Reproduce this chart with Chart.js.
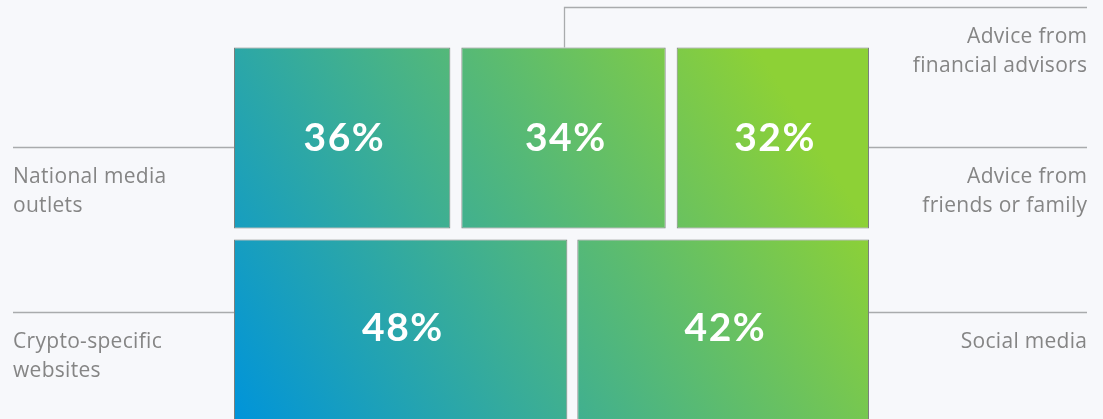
<!DOCTYPE html>
<html>
<head>
<meta charset="utf-8">
<script src="https://cdn.jsdelivr.net/npm/chart.js@4.4.1/dist/chart.umd.min.js"></script>
<style>
  html, body { margin: 0; padding: 0; background: #f7f8fb; overflow: hidden; }
  #wrap { position: relative; width: 1103px; height: 440px; }
</style>
</head>
<body>
<div id="wrap"><canvas id="c"></canvas></div>
<script>
// ---- data ----
const topRowCategories = [['National media', 'outlets'], ['Advice from', 'financial advisors'], ['Advice from', 'friends or family']];
const topRowValues = [36, 34, 32];
const bottomRowCategories = [['Crypto-specific', 'websites'], ['Social media']];
const bottomRowValues = [48, 42];
const rowLabels = ['Top row', 'Bottom row'];

// ---- build floating ranges (fractions of row width) ----
const GAP_TOP = 0.0173;
const GAP_BOTTOM = 0.0157;
function rowRanges(values, gap) {
  const sum = values.reduce((a, b) => a + b, 0);
  const avail = 1 - gap * (values.length - 1);
  let x = 0;
  return values.map(v => { const r = [x, x + v / sum * avail]; x = r[1] + gap; return r; });
}
const topRanges = rowRanges(topRowValues, GAP_TOP);
const bottomRanges = rowRanges(bottomRowValues, GAP_BOTTOM);
const nSets = Math.max(topRowValues.length, bottomRowValues.length);

let gradCache = null;
function gradient(context) {
  const chart = context.chart;
  const a = chart.chartArea;
  if (!a) return '#47b388';
  const key = a.left + ',' + a.top + ',' + a.right + ',' + a.bottom;
  if (gradCache && gradCache.key === key) return gradCache.g;
  const x0 = a.left, y0 = a.top + 377;
  const ux = 0.8466, uy = -0.532, L = 640;
  const g = chart.ctx.createLinearGradient(x0, y0, x0 + ux * L, y0 + uy * L);
  g.addColorStop(0, '#0094da');
  g.addColorStop(1, '#8dd136');
  gradCache = { key, g };
  return g;
}

const datasets = [];
for (let j = 0; j < nSets; j++) {
  datasets.push({
    data: [topRanges[j] || null, bottomRanges[j] || null],
    values: [topRowValues[j], bottomRowValues[j]],
    cats: [topRowCategories[j], bottomRowCategories[j]],
    backgroundColor: gradient,
    borderColor: '#7b7f7c',
    borderWidth: 1,
    borderSkipped: false,
    grouped: false,
    barPercentage: 181 / 192,
    categoryPercentage: 1
  });
}

// label layout: [datasetIndex, rowIndex] -> side, line y offset from chart top
const labelLayout = [
  { ds: 0, row: 0, side: 'left', lineY: 105 },
  { ds: 1, row: 0, side: 'up', lineY: -35 },
  { ds: 2, row: 0, side: 'right', lineY: 105 },
  { ds: 0, row: 1, side: 'left', lineY: 270 },
  { ds: 1, row: 1, side: 'right', lineY: 270 }
];

const LABEL_FONT = '21px "Open Sans", Lato, sans-serif';
const VALUE_FONT = 'bold 39px Lato, "Open Sans", sans-serif';

const annotator = {
  id: 'annotator',
  afterDatasetsDraw(chart) {
    const ctx = chart.ctx;
    const a = chart.chartArea;
    const leftX = 13, rightX = 1087;
    ctx.save();
    ctx.strokeStyle = '#a9abad';
    ctx.lineWidth = 1.3;
    ctx.fillStyle = '#858585';
    ctx.font = LABEL_FONT;
    labelLayout.forEach(l => {
      const el = chart.getDatasetMeta(l.ds).data[l.row];
      if (!el) return;
      const y = Math.round(a.top + l.lineY) + 0.5;
      const left = el.base < el.x ? el.base : el.x;
      const right = el.base < el.x ? el.x : el.base;
      const cats = chart.data.datasets[l.ds].cats[l.row];
      ctx.beginPath();
      let tx, align;
      if (l.side === 'left') {
        ctx.moveTo(leftX, y); ctx.lineTo(left, y);
        tx = leftX; align = 'left';
      } else if (l.side === 'right') {
        ctx.moveTo(right, y); ctx.lineTo(rightX, y);
        tx = rightX; align = 'right';
      } else {
        const cx = Math.round((left + right) / 2) + 0.5;
        const top = el.y - el.height / 2;
        ctx.moveTo(cx, top); ctx.lineTo(cx, y); ctx.lineTo(rightX, y);
        tx = rightX; align = 'right';
      }
      ctx.stroke();
      ctx.textAlign = 'left';
      ctx.textBaseline = 'alphabetic';
      ctx.letterSpacing = '0.3px';
      cats.forEach((line, i) => {
        let w = ctx.measureText(line).width - 0.3;
        const x = align === 'right' ? tx - w : tx;
        ctx.fillText(line, x, y + 35 + i * 29.5);
      });
    });
    ctx.fillStyle = '#ffffff';
    ctx.font = VALUE_FONT;
    ctx.letterSpacing = '1.5px';
    ctx.textAlign = 'left';
    ctx.textBaseline = 'alphabetic';
    chart.data.datasets.forEach((ds, di) => {
      chart.getDatasetMeta(di).data.forEach((el, ri) => {
        if (ds.data[ri] == null) return;
        const cx = (el.x + el.base) / 2;
        const off = ri === 0 ? 13 : 11;
        const txt = ds.values[ri] + '%';
        const w = ctx.measureText(txt).width - 1.5;
        ctx.fillText(txt, cx - w / 2 + 1.5, el.y + off);
      });
    });
    ctx.restore();
  }
};

new Chart(document.getElementById('c'), {
  type: 'bar',
  data: { labels: rowLabels, datasets },
  options: {
    indexAxis: 'y',
    responsive: true,
    maintainAspectRatio: false,
    animation: false,
    layout: { padding: { left: 234, right: 234, top: 42, bottom: 14 } },
    scales: {
      x: { type: 'linear', min: 0, max: 1, display: false },
      y: { type: 'category', display: false, offset: true }
    },
    plugins: { legend: { display: false }, tooltip: { enabled: false } }
  },
  plugins: [annotator]
});
</script>
</body>
</html>
